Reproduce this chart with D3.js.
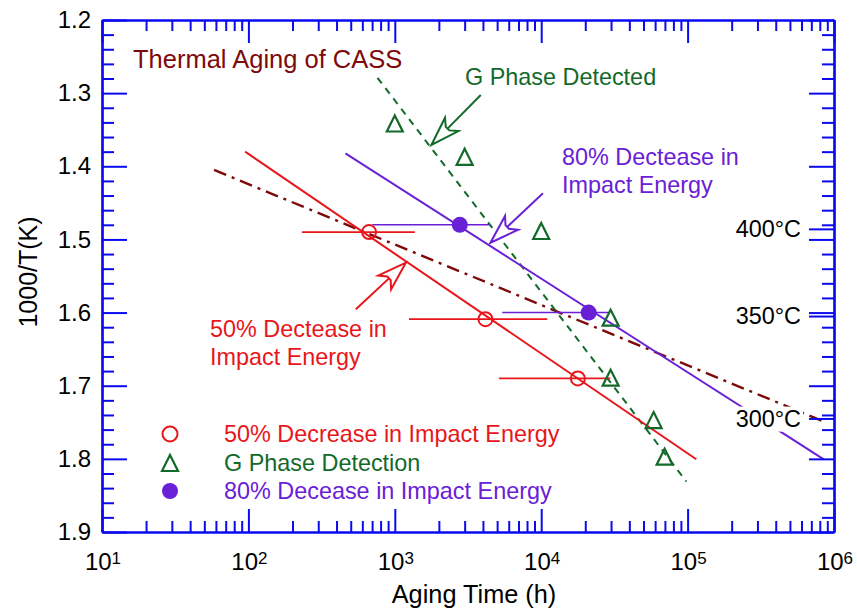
<!DOCTYPE html>
<html>
<head>
<meta charset="utf-8">
<script src="https://cdn.jsdelivr.net/npm/d3@7"></script>
<style>
  html, body { margin: 0; padding: 0; background: #fff; }
  svg { display: block; font-family: "Liberation Sans", Arial, Helvetica, sans-serif; }
</style>
</head>
<body>
<svg id="chart" width="857" height="613"></svg>
<script>
// ---------------- data ----------------
// 50% decrease in impact energy (open red circles) with horizontal scatter bars
const red50Time  = [667, 4160, 17800];
const red50Inv   = [1.49, 1.609, 1.69];
const red50Lo    = [232, 1250, 5140];
const red50Hi    = [1370, 11000, 29600];

// 80% decrease in impact energy (filled purple circles)
const pur80Time  = [2780, 21100];
const pur80Inv   = [1.48, 1.60];
const pur80Lo    = [703, 5420];
const pur80Hi    = [4400, 29300];

// G phase detection (open green triangles)
const gPhaseTime = [1000, 3000, 10000, 29800, 29800, 58600, 69700];
const gPhaseInv  = [1.3415, 1.387, 1.4885, 1.607, 1.689, 1.747, 1.797];

// fitted trend lines (end points)
const redFitTime   = [95, 114600];
const redFitInv    = [1.380, 1.8006];
const purFitTime   = [460, 851000];
const purFitInv    = [1.3823, 1.8006];
const darkFitTime  = [58.3, 851000];
const darkFitInv   = [1.405, 1.749];
const greenFitTime = [762, 98000];
const greenFitInv  = [1.279, 1.831];

// annotation arrows: [tailTime, tailInv, tipTime, tipInv]
const arrowRed    = [542, 1.5956, 1189, 1.5318];
const arrowPurple = [10280, 1.437, 4500, 1.5045];
const arrowGreen  = [3865, 1.3025, 1778, 1.3709];

// axis ticks
const xMajorTicks = [1e1, 1e2, 1e3, 1e4, 1e5, 1e6];
const xExponents  = ["1", "2", "3", "4", "5", "6"];
const yMajorTicks = [1.2, 1.3, 1.4, 1.5, 1.6, 1.7, 1.8, 1.9];
const yTickLabels = ["1.2", "1.3", "1.4", "1.5", "1.6", "1.7", "1.8", "1.9"];
const tempsC      = [400, 350, 300];
const tempLabels  = ["400°C", "350°C", "300°C"];

// ---------------- style ----------------
const C_RED = "#e8161b", C_PUR = "#6a20d6", C_GRN = "#13692a", C_DARK = "#7d0a0a", C_AX = "#0a0af0";

const W = 857, H = 613;
const M = {left: 102, right: 23, top: 20, bottom: 81};
const svg = d3.select("#chart");

const x = d3.scaleLog().domain([10, 1e6]).range([M.left, W - M.right]);
const y = d3.scaleLinear().domain([1.2, 1.9]).range([M.top, H - M.bottom]);

const xMinor = [];
for (let e = 1; e < 6; e++) for (let k = 2; k <= 9; k++) xMinor.push(k * Math.pow(10, e));
const yMinor = d3.range(1.2, 1.9001, 0.02).map(v => +v.toFixed(2)).filter(v => !yMajorTicks.some(m => Math.abs(m - v) < 1e-6));
const tempInv = tempsC.map(t => 1000 / (t + 273.15));

const line = d3.line().x(d => x(d[0])).y(d => y(d[1]));
const zip = (a, b) => a.map((v, i) => [v, b[i]]);

// ---------------- trend lines ----------------
svg.append("path").attr("d", line(zip(darkFitTime, darkFitInv)))
  .attr("fill", "none").attr("stroke", C_DARK).attr("stroke-width", 2.4).attr("stroke-dasharray", "13,6,3,6");
svg.append("path").attr("d", line(zip(greenFitTime, greenFitInv)))
  .attr("fill", "none").attr("stroke", C_GRN).attr("stroke-width", 2).attr("stroke-dasharray", "7,6");
svg.append("path").attr("d", line(zip(redFitTime, redFitInv)))
  .attr("fill", "none").attr("stroke", C_RED).attr("stroke-width", 2);
svg.append("path").attr("d", line(zip(purFitTime, purFitInv)))
  .attr("fill", "none").attr("stroke", C_PUR).attr("stroke-width", 2);

// ---------------- scatter bars ----------------
svg.append("g").selectAll("line").data(red50Time).join("line")
  .attr("x1", (d, i) => x(red50Lo[i])).attr("x2", (d, i) => x(red50Hi[i]))
  .attr("y1", (d, i) => y(red50Inv[i])).attr("y2", (d, i) => y(red50Inv[i]))
  .attr("stroke", C_RED).attr("stroke-width", 1.6);
svg.append("g").selectAll("line").data(pur80Time).join("line")
  .attr("x1", (d, i) => x(pur80Lo[i])).attr("x2", (d, i) => x(pur80Hi[i]))
  .attr("y1", (d, i) => y(pur80Inv[i])).attr("y2", (d, i) => y(pur80Inv[i]))
  .attr("stroke", C_PUR).attr("stroke-width", 1.6);

// ---------------- markers ----------------
const triPath = "M0,-8L8,8L-8,8Z";
svg.append("g").selectAll("circle").data(red50Time).join("circle")
  .attr("cx", d => x(d)).attr("cy", (d, i) => y(red50Inv[i])).attr("r", 7)
  .attr("fill", "none").attr("stroke", C_RED).attr("stroke-width", 2);
svg.append("g").selectAll("circle").data(pur80Time).join("circle")
  .attr("cx", d => x(d)).attr("cy", (d, i) => y(pur80Inv[i])).attr("r", 8)
  .attr("fill", C_PUR);
svg.append("g").selectAll("path").data(gPhaseTime).join("path")
  .attr("d", triPath)
  .attr("transform", (d, i) => `translate(${x(d)},${y(gPhaseInv[i])})`)
  .attr("fill", "none").attr("stroke", C_GRN).attr("stroke-width", 2.2).attr("stroke-linejoin", "miter");

// ---------------- arrows ----------------
function arrow(a, color) {
  const x1 = x(a[0]), y1 = y(a[1]), x2 = x(a[2]), y2 = y(a[3]);
  const len = Math.hypot(x2 - x1, y2 - y1);
  const dx = (x2 - x1) / len, dy = (y2 - y1) / len;
  const nx = -dy, ny = dx;
  const L = 29, Wd = 9.5, N = 23, w = 2.5;
  const p = (a, b) => [x2 - a * dx + b * nx, y2 - a * dy + b * ny];
  const poly = [[x2, y2], p(L, Wd), p(N, w), p(N, -w), p(L, -Wd)];
  const base = p(N, 0);
  svg.append("line").attr("x1", x1).attr("y1", y1).attr("x2", base[0]).attr("y2", base[1])
    .attr("stroke", color).attr("stroke-width", 2);
  svg.append("path").attr("d", "M" + poly.map(q => q.join(",")).join("L") + "Z")
    .attr("fill", "#fff").attr("stroke", color).attr("stroke-width", 2).attr("stroke-linejoin", "miter");
}
arrow(arrowRed, C_RED);
arrow(arrowPurple, C_PUR);
arrow(arrowGreen, C_GRN);

// ---------------- temperature labels (with white background) ----------------
tempInv.forEach((v, i) => {
  const g = svg.append("g");
  const t = g.append("text").attr("x", 801).attr("y", y(v)).attr("dy", "0.35em")
    .attr("text-anchor", "end").attr("font-size", 23.4).attr("fill", "#000").text(tempLabels[i]);
  const bb = t.node().getBBox();
  g.insert("rect", "text").attr("x", bb.x - 2).attr("y", bb.y + 1).attr("width", bb.width + 4).attr("height", bb.height - 1)
    .attr("fill", "#fff");
});

// ---------------- axes ----------------
const styleAxis = g => {
  g.selectAll("path.domain").attr("stroke", C_AX).attr("stroke-width", 2.2);
  g.selectAll(".tick line").attr("stroke", C_AX).attr("stroke-width", 2);
  g.selectAll(".tick text").attr("fill", "#000");
};
const yB = H - M.bottom, xR = W - M.right;
// bottom
svg.append("g").attr("transform", `translate(0,${yB})`)
  .call(d3.axisBottom(x).tickValues(xMinor).tickSizeInner(-11).tickSizeOuter(0).tickFormat("")).call(styleAxis);
svg.append("g").attr("transform", `translate(0,${yB})`)
  .call(d3.axisBottom(x).tickValues(xMajorTicks).tickSizeInner(-23).tickSizeOuter(0).tickFormat("")).call(styleAxis);
// top
svg.append("g").attr("transform", `translate(0,${M.top})`)
  .call(d3.axisTop(x).tickValues(xMinor).tickSizeInner(-11).tickSizeOuter(0).tickFormat("")).call(styleAxis);
svg.append("g").attr("transform", `translate(0,${M.top})`)
  .call(d3.axisTop(x).tickValues(xMajorTicks).tickSizeInner(-23).tickSizeOuter(0).tickFormat("")).call(styleAxis);
// left
svg.append("g").attr("transform", `translate(${M.left},0)`)
  .call(d3.axisLeft(y).tickValues(yMinor).tickSizeInner(-12).tickSizeOuter(0).tickFormat("")).call(styleAxis);
svg.append("g").attr("transform", `translate(${M.left},0)`)
  .call(d3.axisLeft(y).tickValues(yMajorTicks).tickSizeInner(-25).tickSizeOuter(0).tickPadding(11)
    .tickFormat((d, i) => yTickLabels[i]))
  .call(styleAxis)
  .call(g => g.selectAll(".tick text").attr("font-size", 24).attr("font-family", null));
// right
svg.append("g").attr("transform", `translate(${xR},0)`)
  .call(d3.axisRight(y).tickValues(yMinor).tickSizeInner(-12).tickSizeOuter(0).tickFormat("")).call(styleAxis);
svg.append("g").attr("transform", `translate(${xR},0)`)
  .call(d3.axisRight(y).tickValues(yMajorTicks.concat(tempInv)).tickSizeInner(-25).tickSizeOuter(0).tickFormat("")).call(styleAxis);

// x tick labels with superscripts
const xl = svg.append("g").selectAll("text").data(xMajorTicks).join("text")
  .attr("x", d => x(d) + 1).attr("y", yB + 38).attr("text-anchor", "middle").attr("fill", "#000");
xl.append("tspan").attr("font-size", 24).text("10");
xl.append("tspan").attr("font-size", 17).attr("dy", -6).text((d, i) => xExponents[i]);

// axis titles
svg.append("text").attr("x", 474).attr("y", 603).attr("text-anchor", "middle")
  .attr("font-size", 25.3).attr("fill", "#000").text("Aging Time (h)");
svg.append("text").attr("transform", "translate(37,272) rotate(-90)").attr("text-anchor", "middle")
  .attr("font-size", 25).attr("fill", "#000").text("1000/T(K)");

// ---------------- annotations ----------------
svg.append("text").attr("x", 133).attr("y", 68).attr("font-size", 25.5).attr("fill", C_DARK)
  .text("Thermal Aging of CASS");
svg.append("text").attr("x", 465).attr("y", 85).attr("font-size", 23.4).attr("fill", C_GRN)
  .text("G Phase Detected");
const ap = svg.append("text").attr("font-size", 23.4).attr("fill", C_PUR);
ap.append("tspan").attr("x", 562).attr("y", 165).text("80% Dectease in");
ap.append("tspan").attr("x", 562).attr("y", 192.5).text("Impact Energy");
const ar = svg.append("text").attr("font-size", 23.4).attr("fill", C_RED);
ar.append("tspan").attr("x", 210).attr("y", 337).text("50% Dectease in");
ar.append("tspan").attr("x", 210).attr("y", 365).text("Impact Energy");

// ---------------- legend ----------------
const lg = svg.append("g");
lg.append("circle").attr("cx", 170).attr("cy", 434).attr("r", 7.5)
  .attr("fill", "none").attr("stroke", C_RED).attr("stroke-width", 2);
lg.append("path").attr("d", triPath).attr("transform", "translate(170,463)")
  .attr("fill", "none").attr("stroke", C_GRN).attr("stroke-width", 2.2);
lg.append("circle").attr("cx", 170).attr("cy", 491).attr("r", 8).attr("fill", C_PUR);
lg.append("text").attr("x", 224).attr("y", 442).attr("font-size", 23.4).attr("fill", C_RED)
  .text("50% Decrease in Impact Energy");
lg.append("text").attr("x", 224).attr("y", 470.5).attr("font-size", 23.4).attr("fill", C_GRN)
  .text("G Phase Detection");
lg.append("text").attr("x", 224).attr("y", 498.5).attr("font-size", 23.4).attr("fill", C_PUR)
  .text("80% Decease in Impact Energy");
</script>
</body>
</html>
